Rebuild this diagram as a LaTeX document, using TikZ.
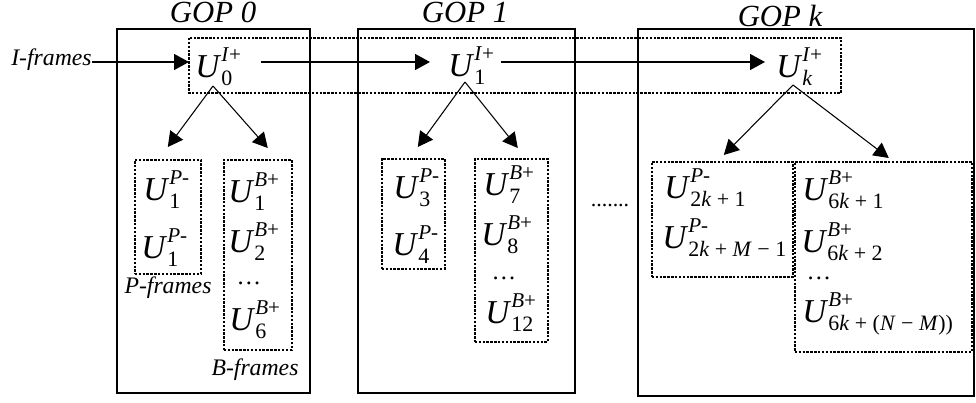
\documentclass[tikz,border=0pt]{standalone}
\usepackage{fontspec}
\setmainfont{Liberation Serif}
\usetikzlibrary{arrows.meta,calc}
\newcommand{\uf}[2]{\textit{U}\rlap{\raisebox{8.6pt}{\fontsize{12}{12}\selectfont #1}}\raisebox{-5pt}{\fontsize{12.5}{12.5}\selectfont #2}}
\tikzset{
  gop/.style={line width=1.4pt},
  dots/.style={line width=0.9pt, dash pattern=on 1.4pt off 0.8pt},
  dbox/.style 2 args={draw, dots, anchor=north west, minimum width=#1*0.02cm, minimum height=#2*0.02cm, inner sep=0pt},
  ent/.style={anchor=base west, inner sep=0pt, font=\fontsize{19}{20}\selectfont},
  lbl/.style={anchor=base, inner sep=0pt, font=\fontsize{13.5}{15}\selectfont\itshape},
  gtitle/.style={anchor=base, inner sep=0pt, font=\fontsize{17.5}{19}\selectfont\itshape},
  vdots/.style={anchor=base, inner sep=0pt, font=\fontsize{14}{16}\selectfont},
  harr/.style={-{Triangle[length=8.5pt,width=9pt]}, line width=1.1pt},
  darr/.style={-{Triangle[length=8.5pt,width=9pt]}, line width=0.6pt},
}
\begin{document}
\begin{tikzpicture}[x=0.02cm,y=-0.02cm]
\useasboundingbox (0,0) rectangle (976,402);
\draw[gop] (117,29) rectangle (310,393);
\draw[gop] (358,29) rectangle (575,393);
\draw[gop] (638,29) rectangle (974,396);
\draw[dots] (189,38) rectangle (841,93);

\node[gtitle] (g0) at (213,23) {GOP 0};
\node[gtitle] (g1) at (465,23) {GOP 1};
\node[gtitle] (gk) at (780,27) {GOP k};

\node[ent] (i0) at (195,77) {\uf{\textit{I}+}{0}};
\node[ent] (i1) at (448,76) {\uf{\textit{I}+}{1}};
\node[ent] (ik) at (776,77) {\uf{\textit{I}+}{\textit{k}}};
\node[lbl, anchor=base east] (ifr) at (92,66) {I-frames};

\coordinate (i0in) at (189,62);
\coordinate (i0out) at (261,62);
\coordinate (i1in) at (430,62);
\coordinate (i1out) at (501,62);
\coordinate (ikin) at (765,62);
\coordinate (i0dn) at (213,86);
\coordinate (i1dn) at (465,82);
\coordinate (ikdn) at (793,85);

\draw[harr] (ifr.east |- i0in) -- (i0in);
\draw[harr] (i0out) -- (i1in);
\draw[harr] (i1out) -- (ikin);

\node[dbox={66}{114}] (p0) at (134,159) {};
\node[dbox={68}{190}] (b0) at (223,159) {};
\node[dbox={63}{110}] (p1) at (381,158) {};
\node[dbox={73}{183}] (b1) at (474,158) {};
\node[dbox={141}{115}] (pk) at (651,161) {};
\node[dbox={177}{190}] (bk) at (794,161) {};

\draw[darr] (i0dn) -- ($(p0.north)+(0,-12)$);
\draw[darr] (i0dn) -- ($(b0.north)+(10,-11)$);
\draw[darr] (i1dn) -- ($(p1.north)+(4.5,-11)$);
\draw[darr] (i1dn) -- ($(b1.north)+(6.5,-10)$);
\draw[darr] (ikdn) -- ($(pk.north)+(1.5,-6)$);
\draw[darr] (ikdn) -- ($(bk.north)+(5.5,-3)$);

\node[ent] (p0a) at (143,200) {\uf{\textit{P}-}{1}};
\node[ent] (p0b) at (141,258) {\uf{\textit{P}-}{1}};
\node[ent] (b0a) at (228,202) {\uf{\textit{B}+}{1}};
\node[ent] (b0b) at (228,252) {\uf{\textit{B}+}{2}};
\node[vdots] (b0d) at (249,284) {\dots};
\node[ent] (b0c) at (229,330) {\uf{\textit{B}+}{6}};
\node[lbl] (pfr) at (168,293) {P-frames};
\node[lbl] (bfr) at (255,375) {B-frames};

\node[ent] (p1a) at (393,198) {\uf{\textit{P}-}{3}};
\node[ent] (p1b) at (392,255) {\uf{\textit{P}-}{4}};
\node[ent] (b1a) at (483,195) {\uf{\textit{B}+}{7}};
\node[ent] (b1b) at (481,245) {\uf{\textit{B}+}{8}};
\node[vdots] (b1d) at (504,279) {\dots};
\node[ent] (b1c) at (485,323) {\uf{\textit{B}+}{12}};

\node[anchor=base, inner sep=0pt, font=\fontsize{12.5}{14}\selectfont] (gap) at (610,206) {.......};

\node[ent] (pka) at (664,198) {\uf{\textit{P}-}{2\textit{k} + 1}};
\node[ent] (pkb) at (662,248) {\uf{\textit{P}-}{2\textit{k} + \textit{M} − 1}};
\node[ent] (bka) at (802,200) {\uf{\textit{B}+}{6\textit{k} + 1}};
\node[ent] (bkb) at (801,252) {\uf{\textit{B}+}{6\textit{k} + 2}};
\node[vdots] (bkd) at (819,279) {\dots};
\node[ent] (bkc) at (802,322) {\uf{\textit{B}+}{6\textit{k} + (\textit{N} − \textit{M}))}};
\end{tikzpicture}
\end{document}
